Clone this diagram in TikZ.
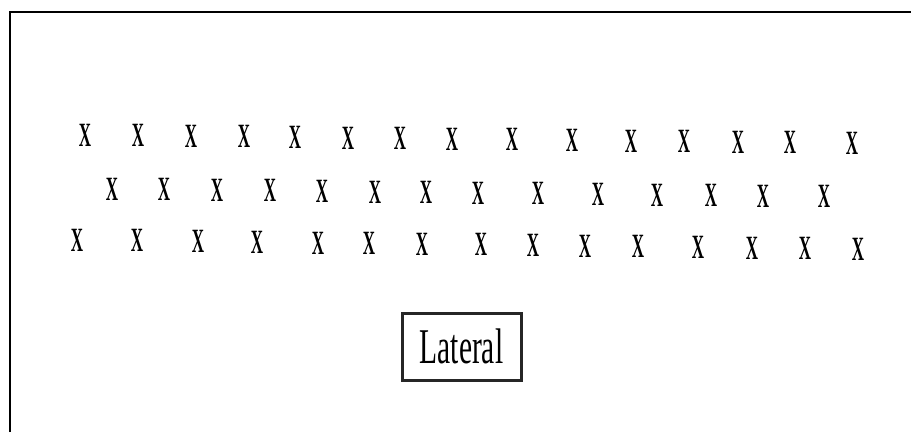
\documentclass[tikz,border=0pt]{standalone}
\usepackage{fontspec}
\setmainfont{Liberation Serif}
\usepackage{graphicx}
\begin{document}
\begin{tikzpicture}[x=1pt,y=-1pt,
  xmark/.style={inner sep=0pt,font=\fontsize{34}{34}\selectfont\bfseries},
  latbox/.style={draw=black!85,line width=3pt,minimum width=119pt,minimum height=67pt,inner sep=0pt,font=\fontsize{50}{50}\selectfont},
  frameline/.style={draw=black,line width=1.6pt}]
\useasboundingbox (0,0) rectangle (911,432);
\fill[white] (0,0) rectangle (911,432);
\coordinate (fb) at (10,432);
\coordinate (fc) at (10,12);
\coordinate (fr) at (911,12);
\draw[frameline] (fb) -- (fc) -- (fr);
% row 1
\foreach \xx [count=\i] in {85,138,191,244,295,348,400,452,512,572,631,684,738,790,852}{
  \pgfmathsetmacro{\yy}{135+0.011*(\xx-85)}
  \node[xmark] (r1-\i) at (\xx,\yy) {\scalebox{0.5}[1]{X}};
}
% row 2
\foreach \xx [count=\i] in {112,164,217,270,322,375,426,478,538,598,657,711,763,824}{
  \pgfmathsetmacro{\yy}{189+0.011*(\xx-112)}
  \node[xmark] (r2-\i) at (\xx,\yy) {\scalebox{0.5}[1]{X}};
}
% row 3
\foreach \xx [count=\i] in {77,137,198,257,318,369,422,481,533,585,638,698,752,805,858}{
  \pgfmathsetmacro{\yy}{240+0.012*(\xx-77)}
  \node[xmark] (r3-\i) at (\xx,\yy) {\scalebox{0.5}[1]{X}};
}
\node[latbox] (lat) at (461.5,346.5) {\scalebox{0.59}[1]{Lateral}};
\end{tikzpicture}
\end{document}
